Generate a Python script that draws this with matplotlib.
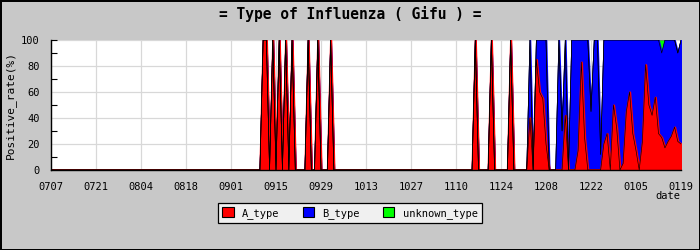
import numpy as np
import matplotlib.pyplot as plt
from matplotlib.patches import Patch
from matplotlib.ticker import FixedLocator

plt.rcParams['font.family'] = ['DejaVu Sans Mono']

# x axis: days counted from 07/07, one sample per day
n_days = 197
tick_labels = ["0707", "0721", "0804", "0818", "0901", "0915", "0929", "1013",
               "1027", "1110", "1124", "1208", "1222", "0105", "0119"]

# days with a single A_type positive (100%)
a_only_days = [66, 67, 69, 71, 73, 75, 80, 83, 87, 132, 137, 143]

# main season, day 147 .. 196
season_days = list(range(147, 197))
season_a = [0, 0, 40, 0, 85, 60, 55, 20, 0, 0,
            0, 0, 0, 42, 0, 0, 0, 15, 83, 25,
            0, 0, 0, 0, 0, 20, 28, 0, 50, 32,
            0, 5, 45, 60, 28, 15, 0, 22, 81, 50,
            42, 56, 28, 25, 17, 22, 26, 33, 22, 20]
season_b = [0, 0, 60, 0, 15, 40, 45, 80, 0, 0,
            0, 100, 30, 58, 0, 100, 100, 85, 17, 75,
            100, 45, 100, 100, 12, 80, 72, 100, 50, 68,
            100, 95, 55, 40, 72, 85, 100, 78, 19, 50,
            58, 44, 72, 65, 83, 78, 74, 67, 68, 80]
season_u = [0, 0, 0, 0, 0, 0, 0, 0, 0, 0,
            0, 0, 0, 0, 0, 0, 0, 0, 0, 0,
            0, 0, 0, 0, 0, 0, 0, 0, 0, 0,
            0, 0, 0, 0, 0, 0, 0, 0, 0, 0,
            0, 0, 0, 10, 0, 0, 0, 0, 0, 0]

x = np.arange(n_days)
a_type = np.zeros(n_days)
b_type = np.zeros(n_days)
unknown = np.zeros(n_days)
a_type[a_only_days] = 100
a_type[season_days] = season_a
b_type[season_days] = season_b
unknown[season_days] = season_u

top_a = a_type
top_b = a_type + b_type
top_u = top_b + unknown

fig = plt.figure(figsize=(7, 2.5), dpi=100, facecolor='#c8c8c8',
                 edgecolor='black', linewidth=1)
ax = fig.add_axes([51/700, 80/250, 630/700, 130/250])
ax.set_facecolor('white')

# blue under red; the same-colour edge makes the thin spikes a bit fuller
ax.fill_between(x, top_b, top_u, color='#00ff00', lw=0, zorder=2)
ax.fill_between(x, top_a, top_b, color='#0000ff', ec='#0000ff', lw=1.2, zorder=2)
ax.fill_between(x, 0, top_a, color='#ff0000', ec='#ff0000', lw=1.6, zorder=2)
for t in (top_a, top_b, top_u):
    ax.plot(x, t, color='black', lw=0.45, zorder=3)

ax.set_xlim(0, n_days - 1)
ax.set_ylim(0, 100)
ax.set_xticks(np.arange(0, n_days, 14))
ax.set_xticklabels(tick_labels)
ax.set_yticks([0, 20, 40, 60, 80, 100])
ax.yaxis.set_minor_locator(FixedLocator([10, 30, 50, 70, 90, 100]))
ax.yaxis.remove_overlapping_locs = False
ax.tick_params(axis='both', which='major', length=0, labelsize=7.5, colors='black')
ax.tick_params(axis='y', which='major', pad=8)
ax.tick_params(axis='x', which='major', pad=9)
ax.tick_params(axis='y', which='minor', direction='in', length=4, width=0.8)
ax.grid(True, color='#d8d8d8', lw=0.9, zorder=0)
ax.set_axisbelow(True)
for s in ('top', 'right'):
    ax.spines[s].set_visible(False)
for s in ('left', 'bottom'):
    ax.spines[s].set_linewidth(1)
    ax.spines[s].set_zorder(4)

ax.set_ylabel('Positive_rate(%)', fontsize=8, labelpad=4)
fig.text(0.5, 1 - 14/250, '= Type of Influenza ( Gifu ) =', ha='center', va='center',
         fontsize=10.5, fontweight='bold')
fig.text(680/700, 1 - 196/250, 'date', ha='right', va='center', fontsize=7.5)

handles = [Patch(facecolor='#ff0000', edgecolor='black', lw=0.8, label='A_type'),
           Patch(facecolor='#0000ff', edgecolor='black', lw=0.8, label='B_type'),
           Patch(facecolor='#00ff00', edgecolor='black', lw=0.8, label='unknown_type')]
leg = fig.legend(handles=handles, loc='center', bbox_to_anchor=(350/700, 1 - 213/250),
                 ncol=3, fontsize=7.5, frameon=True, fancybox=False, framealpha=1,
                 facecolor='#f0f0f0', edgecolor='black', handlelength=1.1,
                 handleheight=1.1, handletextpad=0.8, columnspacing=2.2,
                 borderpad=0.4)
leg.get_frame().set_linewidth(0.9)

fig.savefig('out.png', dpi=100, facecolor=fig.get_facecolor(), edgecolor='black')
